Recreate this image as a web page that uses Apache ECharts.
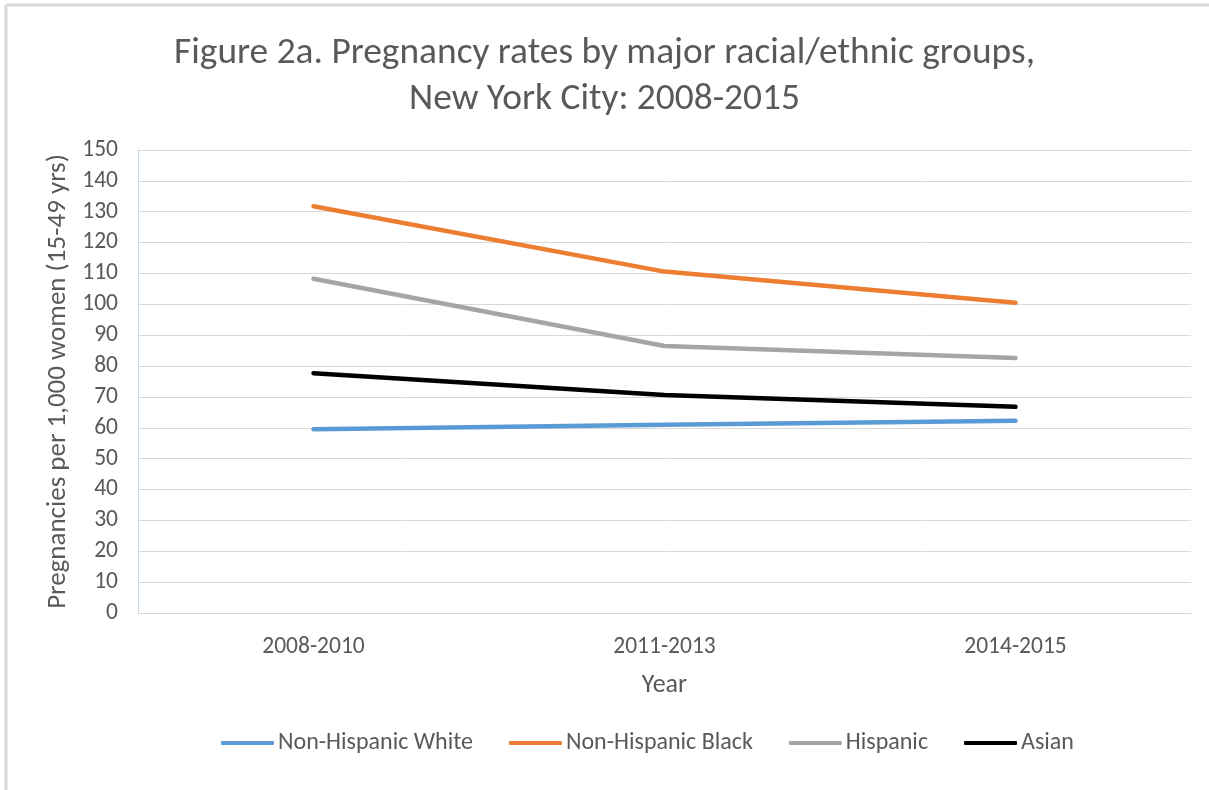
<!DOCTYPE html>
<html>
<head>
<meta charset="utf-8">
<script src="https://cdn.jsdelivr.net/npm/echarts@6/dist/echarts.min.js"></script>
<style>
  html, body { margin: 0; padding: 0; background: #fff; }
  #chart { width: 1209px; height: 790px; }
</style>
</head>
<body>
<div id="chart"></div>
<script>
// Pregnancy rates per 1,000 women aged 15-49, by period
const periods = ['2008-2010', '2011-2013', '2014-2015'];
const nonHispanicWhite = [59.5, 61.0, 62.3];
const nonHispanicBlack = [131.8, 110.6, 100.5];
const hispanic = [108.3, 86.5, 82.6];
const asian = [77.7, 70.6, 66.8];

const groups = [
  { name: 'Non-Hispanic White', data: nonHispanicWhite, color: '#5b9bd5' },
  { name: 'Non-Hispanic Black', data: nonHispanicBlack, color: '#ed7d31' },
  { name: 'Hispanic', data: hispanic, color: '#a5a5a5' },
  { name: 'Asian', data: asian, color: '#000000' }
];

const FONT = "Carlito, 'Liberation Sans Narrow', 'Liberation Sans', sans-serif";
const chart = echarts.init(document.getElementById('chart'));

chart.setOption({
  animation: false,
  backgroundColor: '#ffffff',
  textStyle: { fontFamily: FONT },
  graphic: [
    { type: 'line', shape: { x1: 6, y1: 5, x2: 1209, y2: 5 }, style: { stroke: '#d9d9d9', lineWidth: 3 } },
    { type: 'line', shape: { x1: 6, y1: 5, x2: 6, y2: 790 }, style: { stroke: '#d9d9d9', lineWidth: 3 } }
  ],
  title: {
    text: 'Figure 2a. Pregnancy rates by major racial/ethnic groups,\nNew York City: 2008-2015',
    left: 'center',
    top: 26,
    textStyle: { fontFamily: FONT, fontSize: 37.4, fontWeight: 'normal', color: '#595959', lineHeight: 46, align: 'center' }
  },
  legend: {
    top: 726,
    left: 216,
    itemWidth: 53,
    itemHeight: 4,
    itemGap: 36,
    icon: 'roundRect',
    textStyle: { fontFamily: FONT, fontSize: 24, color: '#595959', padding: [0, 0, 0, -1] },
    data: groups.map(g => g.name)
  },
  grid: { left: 138, right: 18, top: 150, bottom: 177, containLabel: false },
  xAxis: {
    type: 'category',
    data: periods,
    boundaryGap: true,
    name: 'Year',
    nameLocation: 'middle',
    nameGap: 59,
    nameTextStyle: { fontFamily: FONT, fontSize: 26, color: '#595959' },
    axisLine: { lineStyle: { color: '#d9d9d9', width: 1 } },
    axisTick: { show: false },
    axisLabel: { fontFamily: FONT, fontSize: 23.5, color: '#595959', margin: 22 }
  },
  yAxis: {
    type: 'value',
    min: 0,
    max: 150,
    interval: 10,
    name: 'Pregnancies per 1,000 women (15-49 yrs)',
    nameLocation: 'middle',
    nameGap: 66,
    nameTextStyle: { fontFamily: FONT, fontSize: 27, color: '#595959' },
    axisLine: { show: true, lineStyle: { color: '#c6d9ef', width: 1 } },
    axisTick: { show: false },
    axisLabel: { fontFamily: FONT, fontSize: 23.5, color: '#595959', margin: 20 },
    splitLine: { lineStyle: { color: '#d9d9d9', width: 1 } }
  },
  series: groups.map(g => ({
    name: g.name,
    type: 'line',
    data: g.data,
    showSymbol: false,
    symbol: 'none',
    color: g.color,
    lineStyle: { color: g.color, width: 4.5, cap: 'round' },
    itemStyle: { color: g.color }
  }))
});
</script>
</body>
</html>
